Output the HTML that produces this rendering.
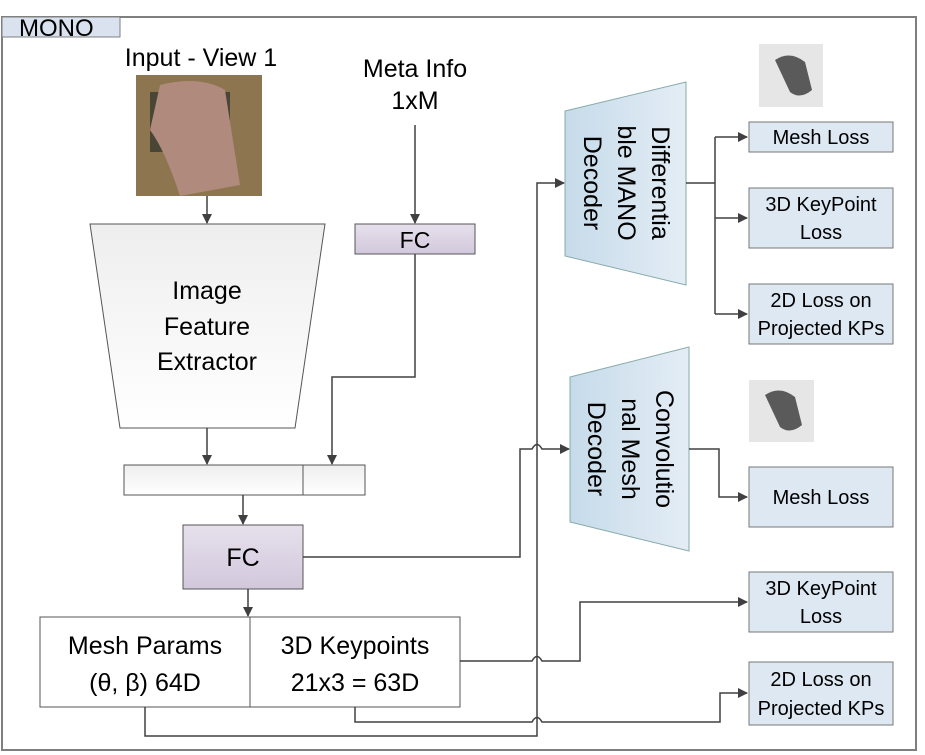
<!DOCTYPE html>
<html><head><meta charset="utf-8"><style>
html,body{margin:0;padding:0;background:#fff;}
svg{display:block;font-family:"Liberation Sans",sans-serif;}
</style></head><body>
<svg width="925" height="755" viewBox="0 0 925 755" xmlns="http://www.w3.org/2000/svg">
<defs>
<marker id="a" markerWidth="10" markerHeight="10" refX="9" refY="5" orient="auto" markerUnits="userSpaceOnUse"><path d="M0,0 L10,5 L0,10 z" fill="#404040"/></marker>
<linearGradient id="tg" x1="0" y1="0" x2="0" y2="1"><stop offset="0" stop-color="#eeeeee"/><stop offset="1" stop-color="#ffffff"/></linearGradient>
<linearGradient id="bg" x1="0" y1="0" x2="1" y2="0"><stop offset="0" stop-color="#c6dbea"/><stop offset="1" stop-color="#e4edf5"/></linearGradient>
<linearGradient id="pg" x1="0" y1="0" x2="0" y2="1"><stop offset="0" stop-color="#e6e0ec"/><stop offset="1" stop-color="#d2c8dc"/></linearGradient>
</defs>
<rect x="2" y="17" width="914" height="733" fill="#fff" stroke="#7f7f7f" stroke-width="2"/>
<rect x="2" y="17" width="118" height="20" fill="#dae1ef" stroke="#7f7f7f"/>
<text x="19" y="36" font-size="24" fill="#000">MONO</text>

<text x="201" y="66" font-size="25" text-anchor="middle">Input - View 1</text>
<rect x="136" y="75" width="126" height="121" fill="#8d7550"/>
<rect x="150" y="92" width="80" height="60" fill="#4a4636"/>
<path d="M160,85 Q200,75 225,90 L240,185 L180,196 Q165,150 150,130 Z" fill="#b08a7c"/>

<text x="415" y="77" font-size="25" text-anchor="middle">Meta Info</text>
<text x="415" y="109" font-size="25" text-anchor="middle">1xM</text>
<line x1="415" y1="125" x2="415" y2="223" stroke="#404040" stroke-width="1.5" marker-end="url(#a)"/>
<rect x="355" y="224" width="120" height="30" fill="url(#pg)" stroke="#555"/>
<text x="415" y="248" font-size="23" text-anchor="middle">FC</text>

<line x1="207" y1="196" x2="207" y2="223" stroke="#404040" stroke-width="1.5" marker-end="url(#a)"/>
<polygon points="90,224 325,224 295,428 120,428" fill="url(#tg)" stroke="#555"/>
<text x="207" y="299" font-size="25" text-anchor="middle">Image</text>
<text x="207" y="335" font-size="25" text-anchor="middle">Feature</text>
<text x="207" y="370" font-size="25" text-anchor="middle">Extractor</text>

<polyline points="415,254 415,377 332,377 332,464" fill="none" stroke="#404040" stroke-width="1.5" marker-end="url(#a)"/>
<line x1="207" y1="428" x2="207" y2="464" stroke="#404040" stroke-width="1.5" marker-end="url(#a)"/>
<rect x="124" y="465" width="241" height="30" fill="url(#tg)" stroke="#555"/>
<line x1="303" y1="465" x2="303" y2="495" stroke="#555"/>
<line x1="243" y1="495" x2="243" y2="524" stroke="#404040" stroke-width="1.5" marker-end="url(#a)"/>
<rect x="183" y="525" width="120" height="64" fill="url(#pg)" stroke="#555"/>
<text x="243" y="566" font-size="25" text-anchor="middle">FC</text>
<line x1="248" y1="589" x2="248" y2="616" stroke="#404040" stroke-width="1.5" marker-end="url(#a)"/>
<rect x="40" y="617" width="420" height="90" fill="#fff" stroke="#555"/>
<line x1="250" y1="617" x2="250" y2="707" stroke="#555"/>
<text x="145" y="654" font-size="25" text-anchor="middle">Mesh Params</text>
<text x="145" y="691" font-size="25" text-anchor="middle">(θ, β)  64D</text>
<text x="355" y="654" font-size="25" text-anchor="middle">3D Keypoints</text>
<text x="355" y="691" font-size="25" text-anchor="middle">21x3 = 63D</text>

<polyline points="145,707 145,736 537,736 537,183 564,183" fill="none" stroke="#404040" stroke-width="1.5" marker-end="url(#a)"/>
<path d="M303,557 L520,557 L520,449 L532,449 Q537,440 542,449 L569,449" fill="none" stroke="#404040" stroke-width="1.5" marker-end="url(#a)"/>
<path d="M460,661 L532,661 Q537,652 542,661 L580,661 L580,602 L747,602" fill="none" stroke="#404040" stroke-width="1.5" marker-end="url(#a)"/>
<path d="M355,707 L355,722 L532,722 Q537,713 542,722 L720,722 L720,693 L747,693" fill="none" stroke="#404040" stroke-width="1.5" marker-end="url(#a)"/>

<polygon points="565,111 686,82 686,285 565,256" fill="url(#bg)" stroke="#8aa"/>
<g font-size="25" text-anchor="middle">
<text transform="translate(652,183) rotate(90)">Differentia</text>
<text transform="translate(618,183) rotate(90)">ble MANO</text>
<text transform="translate(584,183) rotate(90)">Decoder</text>
</g>
<polyline points="686,183 715,183" fill="none" stroke="#404040" stroke-width="1.5"/>
<line x1="715" y1="137" x2="715" y2="314" stroke="#404040" stroke-width="1.5"/>
<line x1="715" y1="137" x2="747" y2="137" stroke="#404040" stroke-width="1.5" marker-end="url(#a)"/>
<line x1="715" y1="218" x2="747" y2="218" stroke="#404040" stroke-width="1.5" marker-end="url(#a)"/>
<line x1="715" y1="314" x2="747" y2="314" stroke="#404040" stroke-width="1.5" marker-end="url(#a)"/>

<polygon points="570,377 689,347 689,551 570,522" fill="url(#bg)" stroke="#8aa"/>
<g font-size="25" text-anchor="middle">
<text transform="translate(656,449) rotate(90)">Convolutio</text>
<text transform="translate(622,449) rotate(90)">nal Mesh</text>
<text transform="translate(588,449) rotate(90)">Decoder</text>
</g>
<polyline points="689,449 719,449 719,497 747,497" fill="none" stroke="#404040" stroke-width="1.5" marker-end="url(#a)"/>

<rect x="759" y="44" width="64" height="63" fill="#e6e6e6"/>
<path d="M775,60 Q790,50 805,62 L812,90 Q800,100 790,92 Z" fill="#5a5a5a"/>
<rect x="749" y="380" width="65" height="62" fill="#e6e6e6"/>
<path d="M765,395 Q780,385 795,397 L802,425 Q790,435 780,427 Z" fill="#5a5a5a"/>

<g fill="#dde8f2" stroke="#777">
<rect x="749" y="122" width="144" height="30"/>
<rect x="749" y="188" width="144" height="60"/>
<rect x="749" y="284" width="144" height="60"/>
<rect x="749" y="467" width="144" height="60"/>
<rect x="749" y="572" width="144" height="60"/>
<rect x="749" y="662" width="144" height="63"/>
</g>
<g font-size="20" text-anchor="middle">
<text x="821" y="144">Mesh Loss</text>
<text x="821" y="211">3D KeyPoint</text>
<text x="821" y="239">Loss</text>
<text x="821" y="307">2D Loss on</text>
<text x="821" y="335">Projected KPs</text>
<text x="821" y="504">Mesh Loss</text>
<text x="821" y="595">3D KeyPoint</text>
<text x="821" y="623">Loss</text>
<text x="821" y="686">2D Loss on</text>
<text x="821" y="715">Projected KPs</text>
</g>
</svg>
</body></html>
